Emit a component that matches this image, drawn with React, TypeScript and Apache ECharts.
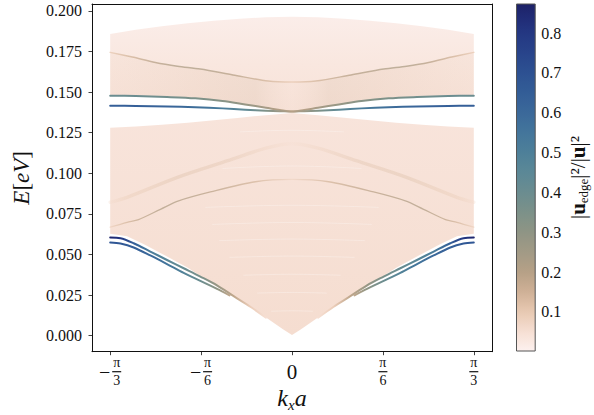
import React, { useEffect, useRef } from "react";
import * as echarts from "echarts";

const SERIF = "'Liberation Serif', 'DejaVu Serif', serif";
const INK = "#111111";

// ---- axes ----
const K3 = Math.PI / 3;
const K6 = Math.PI / 6;
const xTickValues = [-K3, -K6, 0, K6, K3];
const xTickLabels = ["-π/3", "-π/6", "0", "π/6", "π/3"];
const yTickValues = [0, 0.025, 0.05, 0.075, 0.1, 0.125, 0.15, 0.175, 0.2];
const cbTickValues = [0.1, 0.2, 0.3, 0.4, 0.5, 0.6, 0.7, 0.8];
const xRange = [-1.152, 1.152];
const yRange = [-0.0099, 0.2043];
const cbRange = [0.002, 0.873];

// ---- colormap (weight -> colour) ----
const cmapStops: [number, string][] = [
  [0.0, "#fdf2f0"], [0.05, "#f6dfd3"], [0.1, "#e8c9b2"], [0.15, "#cfb196"],
  [0.2, "#b6a086"], [0.25, "#a29a86"], [0.3, "#8f9584"], [0.35, "#7c9189"],
  [0.4, "#6b8d90"], [0.45, "#5b8896"], [0.5, "#4e8099"], [0.55, "#43759b"],
  [0.6, "#3b699a"], [0.65, "#335d97"], [0.7, "#2d5192"], [0.75, "#28448b"],
  [0.8, "#243782"], [0.85, "#1f2872"], [0.9, "#1a1858"],
];

// ---- bulk band boundaries [kx, E] ----
const upperBulkTop = [
  [-1.0472, 0.1858], [-0.9, 0.1885], [-0.75, 0.1906], [-0.6, 0.1924], [-0.45, 0.194], [-0.3, 0.1952], [-0.15, 0.1961], [0, 0.1964],
  [0.15, 0.1961], [0.3, 0.1952], [0.45, 0.194], [0.6, 0.1924], [0.75, 0.1906], [0.9, 0.1885], [1.0472, 0.1858],
];
const lowerBulkTop = [
  [-1.0472, 0.128], [-0.9, 0.1289], [-0.75, 0.1299], [-0.6, 0.1312], [-0.45, 0.1327], [-0.3, 0.1343], [-0.15, 0.1358], [0, 0.1372],
  [0.15, 0.1358], [0.3, 0.1343], [0.45, 0.1327], [0.6, 0.1312], [0.75, 0.1299], [0.9, 0.1289], [1.0472, 0.128],
];
const lowerBulkBottom = [
  [-1.0472, 0.0628], [-0.95, 0.0612], [-0.85, 0.0562], [-0.75, 0.0505], [-0.6, 0.0418], [-0.45, 0.0312], [-0.3, 0.0222], [-0.15, 0.0112], [-0.05, 0.0037], [0, 0.0004],
  [0.05, 0.0037], [0.15, 0.0112], [0.3, 0.0222], [0.45, 0.0312], [0.6, 0.0418], [0.75, 0.0505], [0.85, 0.0562], [0.95, 0.0612], [1.0472, 0.0628],
];

// ---- modes with edge weight [kx, E, weight] ----
const upperTealMode = [
  [-1.0472, 0.1478, 0.4], [-0.9, 0.1476, 0.4], [-0.72, 0.147, 0.38], [-0.557, 0.1462, 0.35], [-0.4, 0.1446, 0.32], [-0.27, 0.1424, 0.28], [-0.15, 0.1404, 0.24], [-0.07, 0.139, 0.2], [0, 0.138, 0.18],
  [0.07, 0.139, 0.2], [0.15, 0.1404, 0.24], [0.27, 0.1424, 0.28], [0.4, 0.1446, 0.32], [0.557, 0.1462, 0.35], [0.72, 0.147, 0.38], [0.9, 0.1476, 0.4], [1.0472, 0.1478, 0.4],
];
const upperBlueMode = [
  [-1.0472, 0.1416, 0.64], [-0.9, 0.1415, 0.64], [-0.72, 0.1412, 0.62], [-0.557, 0.1407, 0.58], [-0.4, 0.14, 0.52], [-0.27, 0.1392, 0.44], [-0.15, 0.1386, 0.34], [-0.07, 0.1383, 0.26], [0, 0.138, 0.2],
  [0.07, 0.1383, 0.26], [0.15, 0.1386, 0.34], [0.27, 0.1392, 0.44], [0.4, 0.14, 0.52], [0.557, 0.1407, 0.58], [0.72, 0.1412, 0.62], [0.9, 0.1415, 0.64], [1.0472, 0.1416, 0.64],
];
const lowerModeALeft = [
  [-1.0472, 0.0604, 0.86], [-0.988, 0.06, 0.8], [-0.912, 0.0569, 0.64], [-0.816, 0.0518, 0.52], [-0.72, 0.0466, 0.46], [-0.624, 0.0415, 0.41],
  [-0.528, 0.0364, 0.36], [-0.432, 0.031, 0.28], [-0.336, 0.0243, 0.18], [-0.24, 0.0178, 0.09], [-0.15, 0.011, 0.05],
];
const lowerModeARight = [
  [0.15, 0.011, 0.05], [0.24, 0.0178, 0.09], [0.336, 0.0243, 0.18], [0.432, 0.031, 0.28], [0.528, 0.0364, 0.36], [0.624, 0.0415, 0.41],
  [0.72, 0.0466, 0.46], [0.816, 0.0518, 0.52], [0.912, 0.0569, 0.64], [0.988, 0.06, 0.8], [1.0472, 0.0604, 0.86],
];
const lowerModeBLeft = [
  [-1.0472, 0.0574, 0.68], [-0.988, 0.0567, 0.67], [-0.912, 0.0543, 0.64], [-0.816, 0.0494, 0.6], [-0.72, 0.0441, 0.55],
  [-0.624, 0.0386, 0.48], [-0.528, 0.0337, 0.4], [-0.432, 0.0288, 0.3], [-0.36, 0.0248, 0.18],
];
const lowerModeBRight = [
  [0.36, 0.0248, 0.18], [0.432, 0.0288, 0.3], [0.528, 0.0337, 0.4], [0.624, 0.0386, 0.48], [0.72, 0.0441, 0.55],
  [0.816, 0.0494, 0.6], [0.912, 0.0543, 0.64], [0.988, 0.0567, 0.67], [1.0472, 0.0574, 0.68],
];
// faint bulk bands with small edge weight
const upperInnerBand = [
  [-1.0472, 0.1745, 0.1], [-0.92, 0.1716, 0.15], [-0.787, 0.1683, 0.2], [-0.66, 0.166, 0.22], [-0.528, 0.1642, 0.22], [-0.34, 0.1606, 0.2], [-0.136, 0.1568, 0.14], [0, 0.1562, 0.1],
  [0.136, 0.1568, 0.14], [0.34, 0.1606, 0.2], [0.528, 0.1642, 0.22], [0.66, 0.166, 0.22], [0.787, 0.1683, 0.2], [0.92, 0.1716, 0.15], [1.0472, 0.1745, 0.1],
];
const lowerInnerSharp = [
  [-1.0472, 0.0668, 0.08], [-0.95, 0.0698, 0.14], [-0.884, 0.0715, 0.18], [-0.758, 0.0778, 0.21], [-0.653, 0.083, 0.21], [-0.47, 0.0885, 0.19], [-0.211, 0.0948, 0.14], [0, 0.0963, 0.07],
  [0.211, 0.0948, 0.14], [0.47, 0.0885, 0.19], [0.653, 0.083, 0.21], [0.758, 0.0778, 0.21], [0.884, 0.0715, 0.18], [0.95, 0.0698, 0.14], [1.0472, 0.0668, 0.08],
];
const lowerInnerDiffuse = [
  [-1.0472, 0.0822, 0.06], [-0.95, 0.0852, 0.1], [-0.66, 0.0975, 0.13], [-0.37, 0.1078, 0.12], [-0.15, 0.1155, 0.08], [0, 0.1182, 0.05],
  [0.15, 0.1155, 0.08], [0.37, 0.1078, 0.12], [0.66, 0.0975, 0.13], [0.95, 0.0852, 0.1], [1.0472, 0.0822, 0.06],
];
// gaps between the dense bulk bands (white stripes)
const bulkGaps = [
  [[-0.12, 0.015], [0, 0.0153], [0.12, 0.015]],
  [[-0.2, 0.0262], [0, 0.0266], [0.2, 0.0262]],
  [[-0.28, 0.0372], [0, 0.0378], [0.28, 0.0372]],
  [[-0.36, 0.0482], [0, 0.049], [0.36, 0.0482]],
  [[-0.42, 0.0585], [0, 0.0595], [0.42, 0.0585]],
  [[-0.46, 0.0685], [0, 0.0697], [0.46, 0.0685]],
  [[-0.5, 0.079], [0, 0.0803], [0.5, 0.079]],
  [[-0.4, 0.103], [0, 0.1045], [0.4, 0.103]],
  [[-0.3, 0.1255], [0, 0.1265], [0.3, 0.1255]],
];

// ---- helpers ----
function hexRgb(h: string) {
  return [parseInt(h.slice(1, 3), 16), parseInt(h.slice(3, 5), 16), parseInt(h.slice(5, 7), 16)];
}
function cmapColor(w: number, alpha = 1) {
  const v = Math.max(cmapStops[0][0], Math.min(cmapStops[cmapStops.length - 1][0], w));
  let i = 0;
  while (i < cmapStops.length - 2 && v > cmapStops[i + 1][0]) i++;
  const [w0, c0] = cmapStops[i];
  const [w1, c1] = cmapStops[i + 1];
  const t = (v - w0) / (w1 - w0);
  const a = hexRgb(c0), b = hexRgb(c1);
  const c = a.map((x, k) => Math.round(x + (b[k] - x) * t));
  return `rgba(${c[0]},${c[1]},${c[2]},${alpha})`;
}
function lineGradient(pts: number[][]) {
  const k0 = pts[0][0], k1 = pts[pts.length - 1][0];
  return new echarts.graphic.LinearGradient(0, 0, 1, 0,
    pts.map((p) => ({ offset: (p[0] - k0) / (k1 - k0), color: cmapColor(p[2]) })));
}
function weightedLine(pts: number[][], width: number, opacity = 1) {
  return {
    type: "line", xAxisIndex: 0, yAxisIndex: 0,
    data: pts.map((p) => [p[0], p[1]]),
    smooth: 0.3, symbol: "none", showSymbol: false, silent: true,
    lineStyle: { width, color: lineGradient(pts), opacity, cap: "round", join: "round" },
  };
}
function region(lower: number[][], upper: number[][], fill: any) {
  return {
    type: "custom", xAxisIndex: 0, yAxisIndex: 0, silent: true,
    data: [[lower[0][0], lower[0][1]]],
    renderItem: (_p: any, api: any) => {
      const pts = lower.map((p) => api.coord([p[0], p[1]]))
        .concat(upper.slice().reverse().map((p) => api.coord([p[0], p[1]])));
      return { type: "polygon", shape: { points: pts }, style: { fill } };
    },
  };
}

function xLabel(v: number) {
  let idx = 0;
  xTickValues.forEach((t, i) => { if (Math.abs(t - v) < Math.abs(xTickValues[idx] - v)) idx = i; });
  const s = xTickLabels[idx];
  if (s === "0") return "{z|0}";
  const neg = s.startsWith("-");
  const den = s.split("/")[1];
  return neg
    ? `{sp|}{n|π}\n{m|−}{g|}{bar|}\n{sp|}{d|${den}}`
    : `{n|π}\n{bar|}\n{d|${den}}`;
}

const axisLineStyle = { color: INK, width: 1 };

function buildOption() {
  const upperFill = new echarts.graphic.LinearGradient(0, 0, 0, 1, [
    { offset: 0, color: cmapColor(0.012) }, { offset: 0.5, color: cmapColor(0.03) }, { offset: 1, color: cmapColor(0.042) },
  ]);
  const lowerFill = new echarts.graphic.LinearGradient(0, 0, 0, 1, [
    { offset: 0, color: cmapColor(0.036) }, { offset: 1, color: cmapColor(0.055) },
  ]);
  const bandTint = new echarts.graphic.LinearGradient(0, 0, 1, 0, [
    { offset: 0, color: cmapColor(0.1, 0.12) }, { offset: 0.25, color: cmapColor(0.12, 0.2) },
    { offset: 0.4, color: cmapColor(0.16, 0.18) }, { offset: 0.5, color: cmapColor(0.08, 0.06) },
    { offset: 0.6, color: cmapColor(0.16, 0.18) }, { offset: 0.75, color: cmapColor(0.12, 0.2) },
    { offset: 1, color: cmapColor(0.1, 0.12) },
  ]);
  const cbStops = [];
  for (let i = 0; i <= 40; i++) {
    const t = i / 40;
    cbStops.push({ offset: t, color: cmapColor(cbRange[0] + t * (cbRange[1] - cbRange[0])) });
  }
  const cbFill = new echarts.graphic.LinearGradient(0, 1, 0, 0, cbStops);

  const fracRich: any = {
    n: { fontSize: 14, fontFamily: SERIF, color: INK, lineHeight: 12, width: 9, align: "center" },
    d: { fontSize: 14, fontFamily: SERIF, color: INK, lineHeight: 12, width: 9, align: "center" },
    bar: { width: 9, height: 1.2, lineHeight: 6, backgroundColor: INK, align: "center" },
    m: { fontSize: 20, fontFamily: SERIF, color: INK, lineHeight: 6, width: 11, align: "center" },
    g: { width: 2, height: 1, lineHeight: 6, align: "center" },
    sp: { width: 13, height: 1, lineHeight: 12, align: "center" },
    z: { fontSize: 21, fontFamily: SERIF, color: INK, lineHeight: 30 },
  };

  const series: any[] = [
    region(upperTealMode, upperBulkTop, upperFill),
    region(lowerBulkBottom, lowerBulkTop, lowerFill),
    region(upperTealMode, upperInnerBand, bandTint),
    ...bulkGaps.map((g) => ({
      type: "line", xAxisIndex: 0, yAxisIndex: 0, data: g, smooth: 0.4, symbol: "none", silent: true,
      lineStyle: { width: 0.8, color: "#ffffff", opacity: 0.35 },
    })),
    weightedLine(lowerInnerDiffuse, 3.5, 0.35),
    weightedLine(lowerInnerSharp, 1.3, 0.75),
    weightedLine(upperInnerBand, 1.5, 0.75),
    weightedLine(upperTealMode, 2, 1),
    weightedLine(upperBlueMode, 2, 1),
    weightedLine(lowerModeBLeft, 2, 1),
    weightedLine(lowerModeBRight, 2, 1),
    weightedLine(lowerModeALeft, 2, 1),
    weightedLine(lowerModeARight, 2, 1),
    {
      type: "custom", xAxisIndex: 1, yAxisIndex: 1, silent: true, data: [[0, cbRange[0]]],
      renderItem: (_p: any, api: any) => {
        const p0 = api.coord([0, cbRange[1]]);
        const p1 = api.coord([1, cbRange[0]]);
        return {
          type: "rect",
          shape: { x: p0[0], y: p0[1], width: p1[0] - p0[0], height: p1[1] - p0[1] },
          style: { fill: cbFill, stroke: "#555", lineWidth: 1 },
        };
      },
    },
  ];

  return {
    animation: false,
    backgroundColor: "#ffffff",
    grid: [
      { left: 92, top: 4, width: 400, height: 347.7, containLabel: false, outerBoundsMode: "none" },
      { left: 516.5, top: 4, width: 18.7, height: 347, containLabel: false, outerBoundsMode: "none" },
    ],
    xAxis: [
      {
        gridIndex: 0, type: "value", min: xRange[0], max: xRange[1],
        axisLine: { show: true, onZero: false, lineStyle: axisLineStyle },
        axisTick: { show: true, customValues: xTickValues, length: 3.5, inside: false, lineStyle: { color: INK, width: 0.8 } },
        axisLabel: { show: true, customValues: xTickValues, formatter: xLabel, margin: 5, rich: fracRich, color: INK, fontFamily: SERIF, lineHeight: 1 },
        splitLine: { show: false },
        name: "{i|k}{s|x}{i|a}", nameLocation: "middle", nameGap: 31, nameMoveOverlap: false,
        nameTextStyle: {
          verticalAlign: "top",
          lineHeight: 30,
          rich: {
            i: { fontSize: 24, fontFamily: SERIF, fontStyle: "italic", color: INK, lineHeight: 30 },
            s: { fontSize: 15, fontFamily: SERIF, fontStyle: "italic", color: INK, verticalAlign: "bottom", lineHeight: 14 },
          },
        },
      },
      { gridIndex: 1, type: "value", min: 0, max: 1, show: false },
      {
        gridIndex: 0, type: "value", min: xRange[0], max: xRange[1], position: "top",
        axisLine: { show: true, onZero: false, lineStyle: axisLineStyle },
        axisTick: { show: false }, axisLabel: { show: false }, splitLine: { show: false },
      },
    ],
    yAxis: [
      {
        gridIndex: 0, type: "value", min: yRange[0], max: yRange[1],
        axisLine: { show: true, onZero: false, lineStyle: axisLineStyle },
        axisTick: { show: true, customValues: yTickValues, length: 3.5, inside: false, lineStyle: { color: INK, width: 0.8 } },
        axisLabel: { show: true, customValues: yTickValues, formatter: (v: number) => v.toFixed(3), margin: 10, fontSize: 16, fontFamily: SERIF, color: INK },
        splitLine: { show: false },
        name: "{i|E}{r|[}{i|eV}{r|]}", nameLocation: "middle", nameGap: 57, nameRotate: 90,
        nameTextStyle: {
          rich: {
            i: { fontSize: 23, fontFamily: SERIF, fontStyle: "italic", color: INK, lineHeight: 28 },
            r: { fontSize: 23, fontFamily: SERIF, color: INK, lineHeight: 28 },
          },
        },
      },
      {
        gridIndex: 1, type: "value", min: cbRange[0], max: cbRange[1], position: "right",
        axisLine: { show: false },
        axisTick: { show: true, customValues: cbTickValues, length: 3.5, inside: false, lineStyle: { color: INK, width: 0.8 } },
        axisLabel: { show: true, customValues: cbTickValues, formatter: (v: number) => v.toFixed(1), margin: 6, fontSize: 16, fontFamily: SERIF, color: INK },
        splitLine: { show: false },
        name: "{r||}{b|u}{s|edge}{r||²/|}{b|u}{r||²}", nameLocation: "middle", nameGap: 31, nameRotate: 90,
        nameTextStyle: {
          rich: {
            r: { fontSize: 21, fontFamily: SERIF, color: INK, lineHeight: 24 },
            b: { fontSize: 21, fontFamily: SERIF, fontWeight: "bold", color: INK, lineHeight: 24 },
            s: { fontSize: 13, fontFamily: SERIF, color: INK, verticalAlign: "bottom", lineHeight: 12 },
          },
        },
      },
      {
        gridIndex: 0, type: "value", min: yRange[0], max: yRange[1], position: "right",
        axisLine: { show: true, onZero: false, lineStyle: axisLineStyle },
        axisTick: { show: false }, axisLabel: { show: false }, splitLine: { show: false },
      },
    ],
    series,
  };
}

export default function App() {
  const ref = useRef<HTMLDivElement>(null);
  useEffect(() => {
    if (!ref.current) return;
    const chart = echarts.init(ref.current, undefined, { renderer: "svg" });
    chart.setOption(buildOption() as any);
    return () => chart.dispose();
  }, []);
  return (
    <div
      ref={ref}
      style={{ position: "fixed", left: 0, top: 0, width: 594, height: 415, background: "#ffffff" }}
    />
  );
}
